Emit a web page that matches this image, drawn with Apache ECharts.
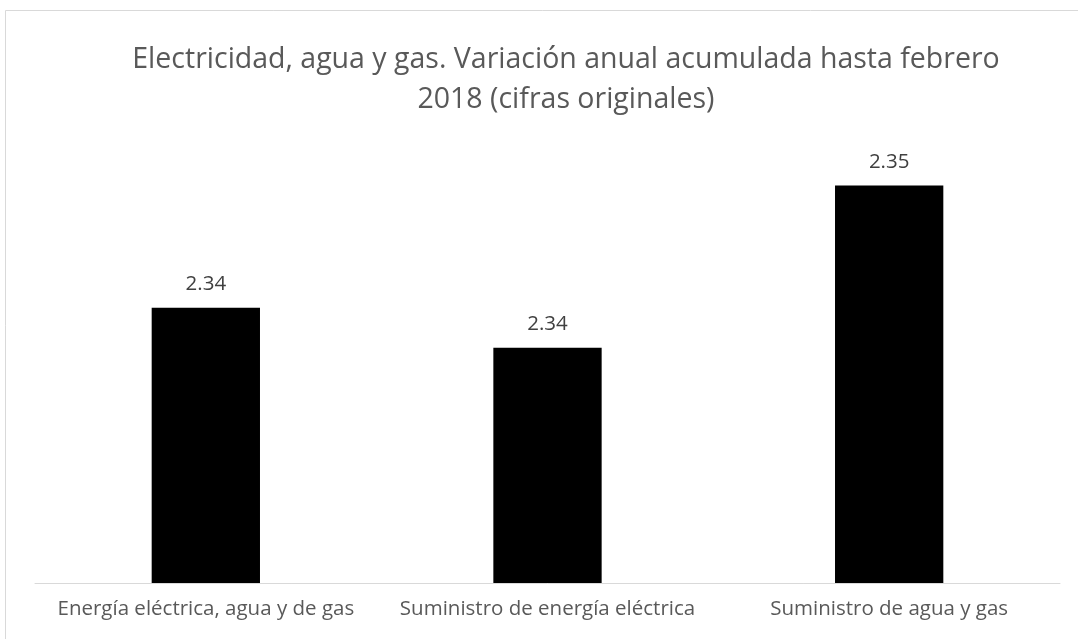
<!DOCTYPE html>
<html>
<head>
<meta charset="utf-8">
<script src="https://cdn.jsdelivr.net/npm/echarts@6/dist/echarts.min.js"></script>
<style>
    html, body { margin: 0; padding: 0; background: #fff; }
    #chart { width: 1078px; height: 639px; }
</style>
</head>
<body>
<div id="chart"></div>
<script>
    // categories and values (axis does not start at zero in the original)
    const categories = ['Energía eléctrica, agua y de gas', 'Suministro de energía eléctrica', 'Suministro de agua y gas']
    const values = [2.3424, 2.3406, 2.3479]
    const axisMin = 2.33
    const axisMax = 2.3495

    const chart = echarts.init(document.getElementById('chart'))
    const option = {
        backgroundColor: '#fff',
        textStyle: { fontFamily: 'Open Sans' },
        graphic: [{
            type: 'rect',
            shape: { x: 5.5, y: 10.5, width: 1200, height: 700 },
            style: { fill: 'none', stroke: '#d9d9d9', lineWidth: 1 },
            silent: true
        }],
        title: {
            text: 'Electricidad, agua y gas. Variación anual acumulada hasta febrero\n2018 (cifras originales)',
            left: 561,
            top: 35,
            textAlign: 'center',
            textStyle: {
                color: '#595959',
                fontSize: 28.5,
                fontWeight: 'normal',
                lineHeight: 40,
                fontFamily: 'Open Sans'
            }
        },
        grid: { left: 35, right: 18, top: 150, bottom: 56, containLabel: false },
        xAxis: {
            type: 'category',
            data: categories,
            axisLine: { lineStyle: { color: '#d9d9d9', width: 1 } },
            axisTick: { show: false },
            axisLabel: { color: '#595959', fontSize: 20.5, margin: 16, interval: 0 }
        },
        yAxis: {
            type: 'value',
            min: axisMin,
            max: axisMax,
            show: false,
            splitLine: { show: false }
        },
        series: [{
            type: 'bar',
            data: values,
            barWidth: '31.7%',
            itemStyle: { color: '#000' },
            label: {
                show: true,
                position: 'top',
                distance: 13,
                color: '#404040',
                fontSize: 20.5,
                formatter: p => p.value.toFixed(2)
            }
        }]
    }
    chart.setOption(option)
</script>
</body>
</html>
